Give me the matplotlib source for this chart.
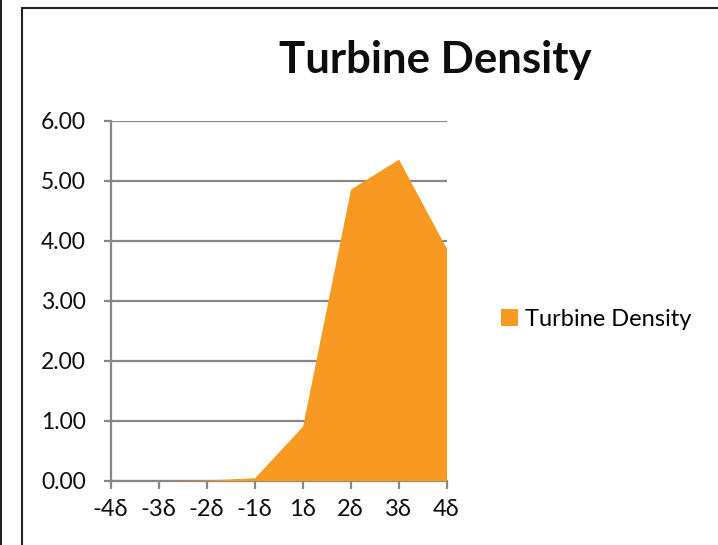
import matplotlib
matplotlib.use("Agg")
import matplotlib.pyplot as plt
from matplotlib.patches import Rectangle

plt.rcParams["font.family"] = ["Lato", "DejaVu Sans"]

# DATA
categories = ["-4δ", "-3δ", "-2δ", "-1δ", "1δ", "2δ", "3δ", "4δ"]
turbine_density = [0.0, 0.0, 0.01, 0.05, 0.91, 4.86, 5.36, 3.87]
y_ticks = [0, 1, 2, 3, 4, 5, 6]

W, H = 718, 545
fig = plt.figure(figsize=(W / 100, H / 100), dpi=100)
ax = fig.add_axes([110.7 / W, 1 - 480.7 / H, (446.5 - 110.7) / W, (480.7 - 120.7) / H])

x = list(range(len(categories)))
orange = "#F89A22"
grey = "#878787"

ax.fill_between(x, turbine_density, 0, color=orange, linewidth=0, zorder=3,
                label="Turbine Density")

ax.set_xlim(0, len(categories) - 1)
ax.set_ylim(0, 6)
ax.set_yticks(y_ticks)
ax.set_yticklabels([f"{v:.2f}" for v in y_ticks])
ax.set_xticks(x)
ax.set_xticklabels(categories)

ax.grid(axis="y", color=grey, linewidth=1.6, zorder=1)
for s in ["top", "right"]:
    ax.spines[s].set_visible(False)
for s in ["left", "bottom"]:
    ax.spines[s].set_color(grey)
    ax.spines[s].set_linewidth(1.6)
ax.tick_params(axis="y", length=5, width=1.6, color=grey, pad=13, labelsize=16.5, labelcolor="#0d0d0d")
ax.tick_params(axis="x", length=6, width=1.6, color=grey, pad=7, labelsize=17, labelcolor="#0d0d0d")

fig.text(435 / W, 1 - 73 / H, "Turbine Density", ha="center", va="baseline",
         fontsize=31.5, fontweight="bold", color="#0d0d0d")

leg = ax.legend(loc="center left", bbox_to_anchor=(480 / W, 1 - 319 / H),
                bbox_transform=fig.transFigure, frameon=False, fontsize=17,
                handlelength=0.7, handleheight=0.7, handletextpad=0.3)

# outer frame like the pasted chart
fig.patches.append(Rectangle((21.5 / W, -0.1), 1.1, 1 - 7.5 / H + 0.1,
                             transform=fig.transFigure, fill=False,
                             edgecolor="#222222", linewidth=1.5))
fig.patches.append(Rectangle((0, 0), 1.5 / W, 1, transform=fig.transFigure,
                             facecolor="#222222", edgecolor="none"))

fig.savefig("out.png", dpi=100)
